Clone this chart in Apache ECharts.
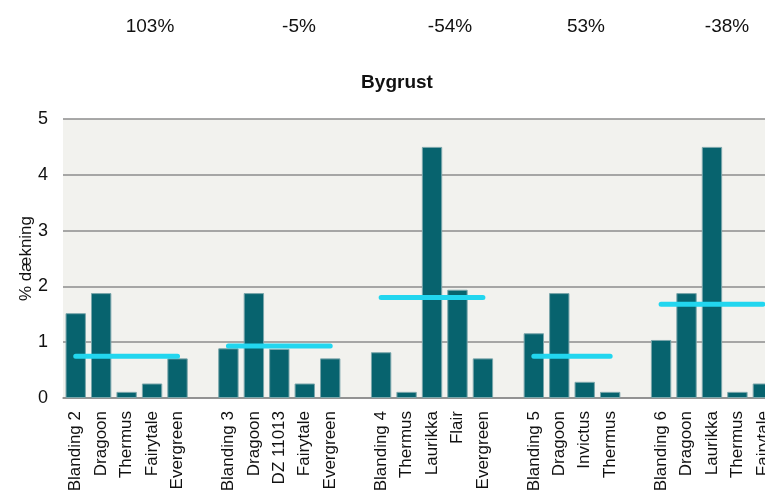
<!DOCTYPE html>
<html>
<head>
<meta charset="utf-8">
<script src="https://cdn.jsdelivr.net/npm/echarts@6/dist/echarts.min.js"></script>
<style>
  html, body { margin: 0; padding: 0; background: #fff; }
  #chart { width: 765px; height: 500px; }
</style>
</head>
<body>
<div id="chart"></div>
<script>
// groups of varieties, an empty category sits between groups
const groupNames = [
  ["Blanding 2", "Dragoon", "Thermus", "Fairytale", "Evergreen"],
  ["Blanding 3", "Dragoon", "DZ 11013", "Fairytale", "Evergreen"],
  ["Blanding 4", "Thermus", "Laurikka", "Flair", "Evergreen"],
  ["Blanding 5", "Dragoon", "Invictus", "Thermus"],
  ["Blanding 6", "Dragoon", "Laurikka", "Thermus", "Fairytale"]
];
const groupValues = [
  [1.52, 1.88, 0.11, 0.26, 0.71],
  [0.89, 1.88, 0.88, 0.26, 0.71],
  [0.82, 0.11, 4.5, 1.94, 0.71],
  [1.16, 1.88, 0.29, 0.11],
  [1.04, 1.88, 4.5, 0.11, 0.26]
];
const groupLevel = [0.75, 0.93, 1.8, 0.75, 1.68];
const changeLabels = ["103%", "-5%", "-54%", "53%", "-38%"];
const changeLabelX = [150, 299, 450, 586, 727];

// flatten into one category axis
const categories = [];
const barData = [];
const levelData = [];
groupNames.forEach(function (names, g) {
  if (g > 0) {
    categories.push("");
    barData.push(null);
    levelData.push(null);
  }
  names.forEach(function (n, i) {
    categories.push(n);
    barData.push(groupValues[g][i]);
    levelData.push(groupLevel[g]);
  });
});

const catWidth = 25.45;

var myChart = echarts.init(document.getElementById("chart"));

var graphics = changeLabels.map(function (t, i) {
  return {
    type: "text",
    x: changeLabelX[i],
    y: 27,
    style: {
      text: t,
      fill: "#111",
      font: "19px 'Liberation Sans', Arial, sans-serif",
      textAlign: "center",
      textVerticalAlign: "middle"
    }
  };
});

var option = {
  animation: false,
  backgroundColor: "#ffffff",
  title: {
    text: "Bygrust",
    left: 392,
    top: 68,
    textAlign: "center",
    textStyle: {
      fontFamily: "'Liberation Sans', Arial, sans-serif",
      fontSize: 19,
      fontWeight: "bold",
      color: "#111"
    }
  },
  graphic: graphics,
  grid: {
    left: 63,
    top: 119,
    height: 279,
    width: categories.length * catWidth,
    outerBoundsMode: "none",
    containLabel: false,
    show: true,
    backgroundColor: "#f2f2ee",
    borderWidth: 0
  },
  xAxis: {
    type: "category",
    data: categories,
    axisLine: { lineStyle: { color: "#8c8c8c", width: 1.5 } },
    axisTick: { length: 5, interval: 0, lineStyle: { color: "#8c8c8c", width: 1.5 } },
    axisLabel: {
      interval: 0,
      rotate: 90,
      margin: 13,
      fontFamily: "'Liberation Sans', Arial, sans-serif",
      fontSize: 17,
      color: "#111"
    }
  },
  yAxis: {
    type: "value",
    min: 0,
    max: 5,
    interval: 1,
    name: "% dækning",
    nameLocation: "middle",
    nameGap: 28,
    nameMoveOverlap: false,
    nameTextStyle: {
      fontFamily: "'Liberation Sans', Arial, sans-serif",
      fontSize: 17,
      color: "#111"
    },
    axisLine: { show: false },
    axisTick: { show: false },
    axisLabel: {
      margin: 15,
      fontFamily: "'Liberation Sans', Arial, sans-serif",
      fontSize: 18,
      color: "#111"
    },
    splitLine: { lineStyle: { color: "#8c8c8c", width: 1.5 } }
  },
  series: [
    {
      type: "bar",
      data: barData,
      barCategoryGap: "20%",
      itemStyle: { color: "#07636e", borderColor: "#7aa6ab", borderWidth: 1 }
    },
    {
      type: "line",
      data: levelData,
      showSymbol: false,
      connectNulls: false,
      lineStyle: { color: "#22d6ef", width: 5, cap: "round" },
      z: 3
    }
  ]
};

myChart.setOption(option);
</script>
</body>
</html>
